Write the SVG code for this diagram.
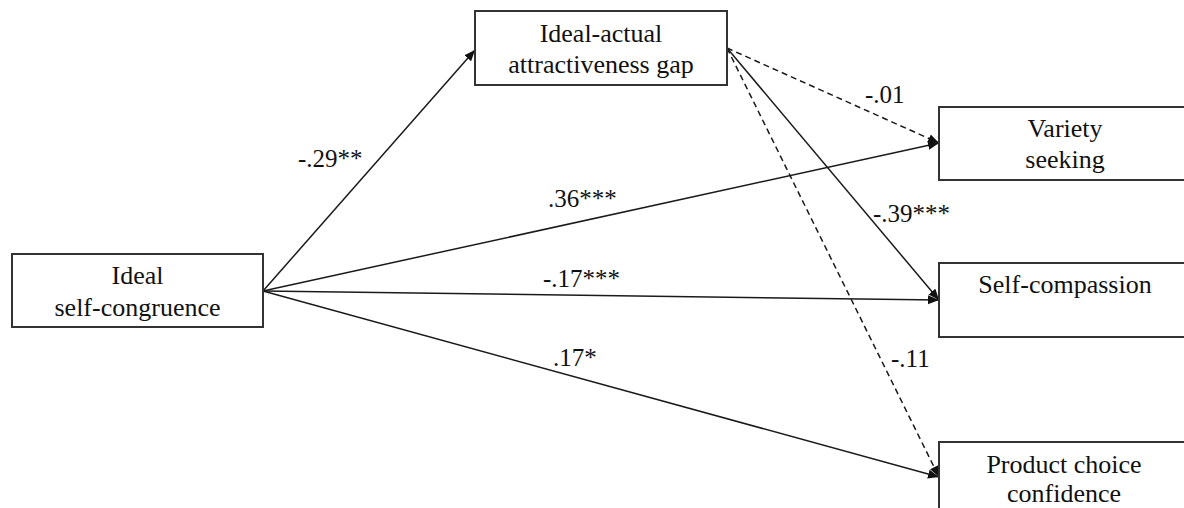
<svg xmlns="http://www.w3.org/2000/svg" width="1184" height="508" viewBox="0 0 1184 508">
<style>
.box{fill:#fff;stroke:#333;stroke-width:2}
.t{font-size:26px;fill:#111;text-anchor:middle}
.lbl{font-size:25px;fill:#111}
.c{stroke:#1a1a1a;stroke-width:1.5;fill:none}
.d{stroke-dasharray:6,4}
</style>
<defs>
<marker id="ah" markerUnits="userSpaceOnUse" markerWidth="12" markerHeight="10" refX="11" refY="5" orient="auto">
<path d="M0,0.5 L11,5 L0,9.5 Z" fill="#111"/>
</marker>
</defs>
<rect width="1184" height="508" fill="#fff"/>
<g font-family="Liberation Serif, Times New Roman, serif">
<g id="connectors">
<line class="c" x1="263" y1="291" x2="475" y2="50" marker-end="url(#ah)"/>
<line class="c" x1="263" y1="291" x2="939" y2="143" marker-end="url(#ah)"/>
<line class="c" x1="263" y1="291" x2="939" y2="300" marker-end="url(#ah)"/>
<line class="c" x1="263" y1="291" x2="939" y2="477" marker-end="url(#ah)"/>
<line class="c d" x1="727" y1="48" x2="939" y2="143" marker-end="url(#ah)"/>
<line class="c" x1="727" y1="48" x2="939" y2="300" marker-end="url(#ah)"/>
<line class="c d" x1="727" y1="48" x2="939" y2="477" marker-end="url(#ah)"/>
<text class="lbl" x="298" y="167">-.29**</text>
<text class="lbl" x="548" y="207">.36***</text>
<text class="lbl" x="543" y="287">-.17***</text>
<text class="lbl" x="553" y="366">.17*</text>
<text class="lbl" x="865" y="103">-.01</text>
<text class="lbl" x="873" y="222">-.39***</text>
<text class="lbl" x="891" y="367">-.11</text>
</g>
<g id="ideal">
<rect class="box" x="12" y="254" width="251" height="73"/>
<text class="t" x="137.5" y="284">Ideal</text>
<text class="t" x="137.5" y="316">self-congruence</text>
</g>
<g id="gap">
<rect class="box" x="475" y="11" width="252" height="74"/>
<text class="t" x="601" y="42">Ideal-actual</text>
<text class="t" x="601" y="73">attractiveness gap</text>
</g>
<g id="variety">
<rect class="box" x="939" y="107" width="260" height="73"/>
<text class="t" x="1065" y="137">Variety</text>
<text class="t" x="1065" y="168">seeking</text>
</g>
<g id="selfcomp">
<rect class="box" x="939" y="263" width="260" height="74"/>
<text class="t" x="1065" y="293">Self-compassion</text>
</g>
<g id="product">
<rect class="box" x="939" y="442" width="260" height="80"/>
<text class="t" x="1064" y="473">Product choice</text>
<text class="t" x="1064" y="502">confidence</text>
</g>
</g>
</svg>
